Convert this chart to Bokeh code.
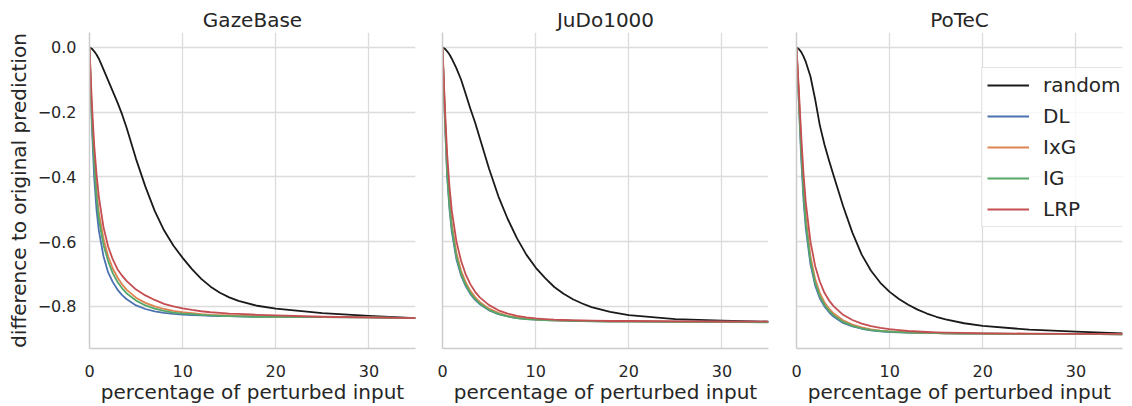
from bokeh.plotting import figure
from bokeh.layouts import row
from bokeh.models import Range1d, FixedTicker, CustomJSTickFormatter
from bokeh.embed import file_html
from bokeh.resources import INLINE

# ---------------- data ----------------
titles = ["GazeBase", "JuDo1000", "PoTeC"]
methods = ["random", "DL", "IxG", "IG", "LRP"]
x_pct = [0, 0.25, 0.5, 0.75, 1, 1.5, 2, 2.5, 3, 3.5, 4, 5, 6, 7, 8, 9, 10,
         11, 12, 13, 14, 15, 16, 18, 20, 25, 30, 35]

gaze_random = [0, -0.004, -0.012, -0.022, -0.035, -0.068, -0.102, -0.136, -0.17, -0.207, -0.25, -0.345, -0.43, -0.505, -0.565, -0.612, -0.65, -0.685, -0.715, -0.739, -0.758, -0.772, -0.783, -0.798, -0.807, -0.821, -0.829, -0.836]
gaze_dl = [0, -0.24, -0.40, -0.50, -0.565, -0.645, -0.695, -0.725, -0.748, -0.765, -0.778, -0.797, -0.808, -0.815, -0.82, -0.823, -0.825, -0.827, -0.828, -0.829, -0.83, -0.83, -0.831, -0.832, -0.832, -0.833, -0.834, -0.836]
gaze_ixg = [0, -0.20, -0.34, -0.44, -0.51, -0.59, -0.645, -0.683, -0.71, -0.732, -0.749, -0.773, -0.789, -0.80, -0.808, -0.814, -0.818, -0.821, -0.824, -0.826, -0.827, -0.828, -0.829, -0.831, -0.832, -0.833, -0.834, -0.836]
gaze_ig = [0, -0.22, -0.36, -0.46, -0.53, -0.61, -0.66, -0.698, -0.724, -0.744, -0.76, -0.782, -0.797, -0.807, -0.814, -0.819, -0.822, -0.824, -0.826, -0.828, -0.829, -0.83, -0.831, -0.832, -0.832, -0.833, -0.834, -0.836]
gaze_lrp = [0, -0.17, -0.30, -0.39, -0.46, -0.555, -0.615, -0.655, -0.685, -0.705, -0.722, -0.748, -0.766, -0.78, -0.792, -0.80, -0.806, -0.811, -0.815, -0.818, -0.82, -0.822, -0.823, -0.826, -0.828, -0.832, -0.834, -0.836]

judo_random = [0, -0.004, -0.012, -0.022, -0.035, -0.065, -0.10, -0.145, -0.19, -0.232, -0.28, -0.375, -0.46, -0.53, -0.59, -0.64, -0.68, -0.712, -0.74, -0.761, -0.778, -0.791, -0.802, -0.817, -0.827, -0.839, -0.844, -0.847]
judo_dl = [0, -0.22, -0.40, -0.50, -0.57, -0.655, -0.705, -0.738, -0.762, -0.78, -0.793, -0.812, -0.824, -0.831, -0.836, -0.839, -0.841, -0.842, -0.843, -0.8435, -0.844, -0.8445, -0.845, -0.846, -0.846, -0.847, -0.847, -0.848]
judo_ixg = [0, -0.20, -0.37, -0.475, -0.545, -0.635, -0.69, -0.726, -0.752, -0.771, -0.786, -0.807, -0.82, -0.829, -0.834, -0.838, -0.84, -0.842, -0.843, -0.8435, -0.844, -0.8445, -0.845, -0.846, -0.846, -0.847, -0.847, -0.848]
judo_ig = [0, -0.21, -0.39, -0.49, -0.56, -0.648, -0.70, -0.734, -0.759, -0.777, -0.791, -0.811, -0.823, -0.831, -0.836, -0.839, -0.841, -0.842, -0.843, -0.844, -0.845, -0.8455, -0.846, -0.847, -0.847, -0.848, -0.848, -0.849]
judo_lrp = [0, -0.18, -0.33, -0.43, -0.505, -0.60, -0.66, -0.702, -0.732, -0.755, -0.772, -0.796, -0.812, -0.822, -0.829, -0.834, -0.837, -0.839, -0.841, -0.842, -0.843, -0.8435, -0.844, -0.845, -0.845, -0.846, -0.847, -0.847]

potec_random = [0, -0.005, -0.014, -0.028, -0.045, -0.09, -0.16, -0.24, -0.30, -0.35, -0.397, -0.49, -0.572, -0.64, -0.69, -0.727, -0.755, -0.777, -0.795, -0.81, -0.822, -0.832, -0.84, -0.852, -0.86, -0.872, -0.878, -0.883]
potec_dl = [0, -0.17, -0.34, -0.47, -0.56, -0.67, -0.735, -0.775, -0.80, -0.818, -0.832, -0.851, -0.862, -0.869, -0.874, -0.877, -0.879, -0.88, -0.881, -0.8815, -0.882, -0.8825, -0.883, -0.884, -0.884, -0.885, -0.885, -0.886]
potec_ixg = [0, -0.15, -0.30, -0.43, -0.525, -0.645, -0.715, -0.758, -0.787, -0.807, -0.822, -0.843, -0.856, -0.865, -0.871, -0.875, -0.877, -0.8787, -0.88, -0.881, -0.882, -0.8825, -0.883, -0.884, -0.884, -0.885, -0.885, -0.886]
potec_ig = [0, -0.16, -0.32, -0.45, -0.545, -0.66, -0.727, -0.768, -0.795, -0.814, -0.828, -0.848, -0.86, -0.868, -0.873, -0.876, -0.878, -0.8797, -0.881, -0.8815, -0.882, -0.8825, -0.883, -0.884, -0.884, -0.885, -0.885, -0.886]
potec_lrp = [0, -0.13, -0.27, -0.39, -0.48, -0.60, -0.675, -0.723, -0.758, -0.782, -0.80, -0.826, -0.842, -0.853, -0.861, -0.866, -0.87, -0.873, -0.876, -0.8775, -0.879, -0.88, -0.881, -0.882, -0.883, -0.884, -0.885, -0.885]

x_ticks = [0, 10, 20, 30]
y_ticks = [-0.8, -0.6, -0.4, -0.2, 0.0]

panels = [
    [gaze_random, gaze_dl, gaze_ixg, gaze_ig, gaze_lrp],
    [judo_random, judo_dl, judo_ixg, judo_ig, judo_lrp],
    [potec_random, potec_dl, potec_ixg, potec_ig, potec_lrp],
]

# ---------------- styling ----------------
colors = ["#1a1a1a", "#4c72b0", "#dd8452", "#55a868", "#c44e52"]
FONT = "DejaVu Sans"
TXT = "#262626"
GRID = "#dcdcdc"
SPINE = "#cccccc"

widths = [428, 353, 351]
lefts = [89, 14, 15]
rights = [13, 13, 10]

figs = []
for i, (title, series) in enumerate(zip(titles, panels)):
    p = figure(width=widths[i], height=406, output_backend="svg",
               toolbar_location=None, title=title,
               x_range=Range1d(0, 35), y_range=Range1d(-0.93, 0.046),
               min_border_left=lefts[i], min_border_right=rights[i],
               min_border_top=32, min_border_bottom=55)
    p.outline_line_color = None
    p.background_fill_color = "white"
    p.border_fill_color = "white"

    p.title.text_font = FONT
    p.title.text_font_size = "20px"
    p.title.text_font_style = "normal"
    p.title.text_color = TXT
    p.title.align = "center"
    p.title.standoff = 2

    for ax in (p.xaxis[0], p.yaxis[0]):
        ax.axis_line_color = SPINE
        ax.axis_line_width = 1.5
        ax.major_tick_line_color = None
        ax.minor_tick_line_color = None
        ax.major_label_text_font = FONT
        ax.major_label_text_font_size = "16px"
        ax.major_label_text_color = TXT
        ax.axis_label_text_font = FONT
        ax.axis_label_text_font_size = "20px"
        ax.axis_label_text_font_style = "normal"
        ax.axis_label_text_color = TXT

    p.xaxis.ticker = FixedTicker(ticks=x_ticks)
    p.xaxis.axis_label = "percentage of perturbed input"
    p.xaxis.major_label_standoff = 10
    p.xaxis.axis_label_standoff = 0

    p.yaxis.ticker = FixedTicker(ticks=y_ticks)
    p.yaxis.major_tick_out = 0
    p.yaxis.major_tick_in = 0
    p.yaxis.minor_tick_out = 0
    p.yaxis.minor_tick_in = 0
    if i == 0:
        p.yaxis.formatter = CustomJSTickFormatter(
            code="return (tick < -1e-9 ? '\u2212' : '') + Math.abs(tick).toFixed(1);")
        p.yaxis.axis_label = "difference to original prediction"
        p.yaxis.major_label_standoff = 13
        p.yaxis.axis_label_standoff = 4
    else:
        p.yaxis.formatter = CustomJSTickFormatter(code="return '';")
        p.yaxis.major_label_standoff = 0

    p.xgrid.grid_line_color = GRID
    p.ygrid.grid_line_color = GRID
    p.xgrid.grid_line_width = 1.3
    p.ygrid.grid_line_width = 1.3

    for name, ys, c in zip(methods, series, colors):
        kw = dict(line_color=c, line_width=1.8, line_join="round")
        if i == 2:
            kw["legend_label"] = name
        p.line(x_pct, ys, **kw)

    if i == 2:
        lg = p.legend[0]
        lg.location = (185, 121)
        lg.label_text_font = FONT
        lg.label_text_font_size = "20px"
        lg.label_text_color = TXT
        lg.glyph_width = 42
        lg.glyph_height = 20
        lg.label_height = 20
        lg.spacing = 7
        lg.padding = 5
        lg.margin = 0
        lg.label_standoff = 14
        lg.border_line_color = SPINE
        lg.border_line_width = 1.2
        lg.background_fill_alpha = 0.8

    figs.append(p)

layout = row(*figs, spacing=0)
open("out.html", "w").write(file_html(layout, INLINE))
